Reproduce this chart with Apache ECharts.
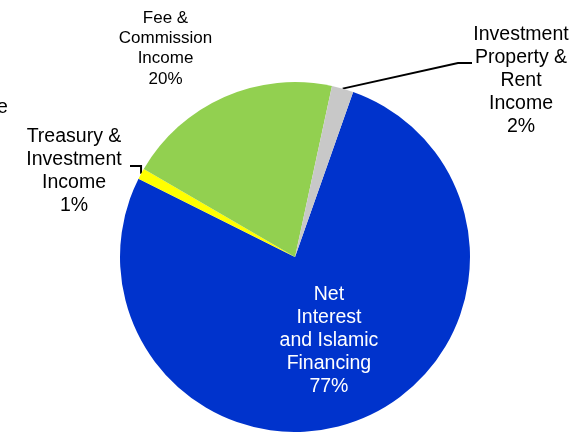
<!DOCTYPE html>
<html>
<head>
<meta charset="utf-8">
<script src="https://cdn.jsdelivr.net/npm/echarts@6/dist/echarts.min.js"></script>
<style>
  html, body { margin: 0; padding: 0; background: #fff; }
  #chart { width: 583px; height: 432px; }
</style>
</head>
<body>
<div id="chart"></div>
<script>
// Revenue mix by source (share of total income, %)
const categories = [
  'Net\nInterest\nand Islamic\nFinancing',
  'Treasury &\nInvestment\nIncome',
  'Fee &\nCommission\nIncome',
  'Investment\nProperty &\nRent\nIncome'
];
const shares = [77, 1, 20, 2];
const sliceColors = ['#0033CC', '#FFFF00', '#92D050', '#C8C8C8'];

const FONT = 'Arial, "Liberation Sans", sans-serif';
const CENTER = [295, 257];
const RADIUS = 175;
const START_ANGLE = 70.6;

// Where each outside label sits, and the elbow of its leader line
const labelSpots = {
  1: { x: 74, y: 171, elbow: [[null, 166], [130, 166]] },
  2: { x: 165.5, y: 48.5, elbow: null },
  3: { x: 521, y: 81, elbow: [[458, 63], [472, 63]] }
};

// Point on the rim at the middle of slice i
function rimPoint(i) {
  const total = shares.reduce((a, b) => a + b, 0);
  let before = 0;
  for (let k = 0; k < i; k++) before += shares[k];
  const mid = START_ANGLE - (before + shares[i] / 2) / total * 360;
  const rad = mid * Math.PI / 180;
  return [CENTER[0] + RADIUS * Math.cos(rad), CENTER[1] - RADIUS * Math.sin(rad)];
}

const data = categories.map((name, i) => {
  const item = {
    name: name,
    value: shares[i],
    itemStyle: { color: sliceColors[i] }
  };
  if (i === 0) {
    item.label = { position: 'inside', color: '#fff', fontSize: 19.5, lineHeight: 23 };
    item.labelLine = { show: false };
  } else {
    item.label = {
      position: 'outside', color: '#000',
      fontSize: i === 2 ? 17 : 19.5,
      lineHeight: i === 2 ? 20.3 : 23
    };
    item.labelLine = { show: !!labelSpots[i].elbow, lineStyle: { color: '#000', width: 2 } };
  }
  return item;
});

const chart = echarts.init(document.getElementById('chart'), null, { renderer: 'canvas' });
chart.setOption({
  animation: false,
  backgroundColor: '#fff',
  graphic: [{
    type: 'text', x: -3, y: 108,
    style: { text: 'e', font: '19.5px ' + FONT, fill: '#000', textVerticalAlign: 'middle' }
  }],
  series: [{
    type: 'pie',
    center: CENTER,
    radius: RADIUS,
    startAngle: START_ANGLE,
    clockwise: true,
    avoidLabelOverlap: false,
    silent: true,
    data: data,
    label: {
      fontFamily: FONT,
      align: 'center',
      formatter: p => p.name + '\n' + p.value + '%'
    },
    labelLine: { length: 10, length2: 10 },
    labelLayout: function (params) {
      const spot = labelSpots[params.dataIndex];
      if (!spot) return {};
      const out = { x: spot.x, y: spot.y, align: 'center', verticalAlign: 'middle' };
      if (spot.elbow) {
        const rim = rimPoint(params.dataIndex);
        const pts = [rim];
        spot.elbow.forEach(p => pts.push([p[0] === null ? rim[0] : p[0], p[1]]));
        out.labelLinePoints = pts;
      }
      return out;
    }
  }]
});
</script>
</body>
</html>
